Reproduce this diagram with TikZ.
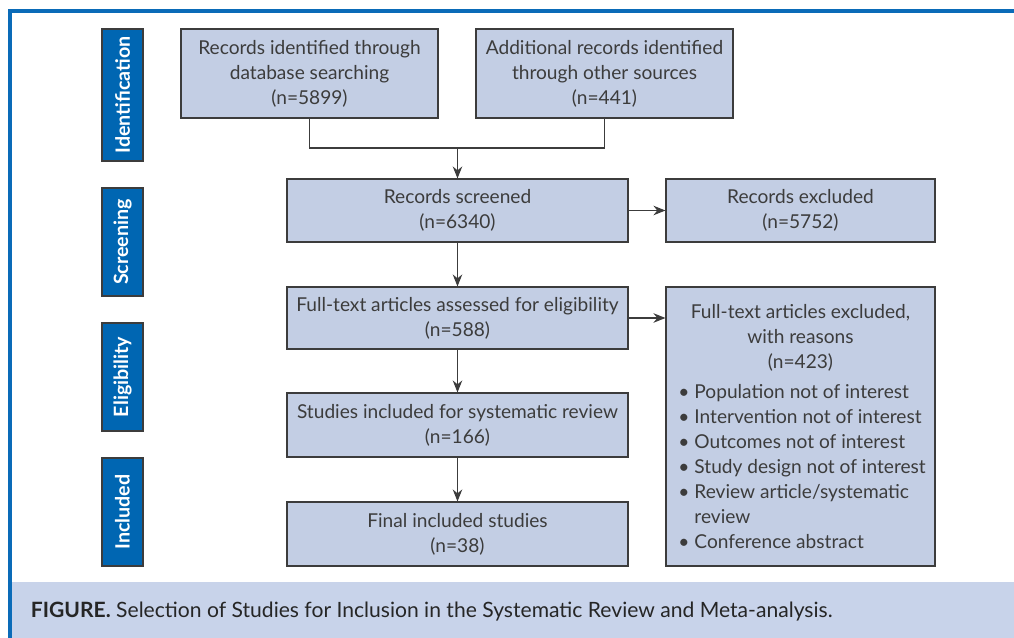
\documentclass[tikz,border=0pt]{standalone}
\usepackage{fontspec}
\setmainfont{Lato}
\usetikzlibrary{arrows.meta, positioning}
\definecolor{frameblue}{HTML}{0A6BB8}
\definecolor{stageblue}{HTML}{0066B2}
\definecolor{boxfill}{HTML}{C3CEE4}
\definecolor{capfill}{HTML}{C8D3EA}
\definecolor{inkgray}{HTML}{3C3C3C}
\newcommand{\reason}[1]{\makebox[6.1cm][l]{#1}}

\begin{document}
\begin{tikzpicture}[x=0.025cm, y=-0.025cm, every node/.style={font=\fontsize{13.6}{17.8}\selectfont, text=inkgray},
  box/.style={draw=inkgray, line width=0.8pt, fill=boxfill, minimum height=1.575cm, align=center, inner sep=2pt},
  stage/.style={draw=inkgray, line width=0.8pt, fill=stageblue, rotate=90, minimum height=1.025cm, minimum width=2.7cm, inner sep=0pt, text=white, font=\fontsize{14}{16}\selectfont\bfseries},
  arr/.style={-{Stealth[length=3mm, width=2.4mm]}, draw=inkgray, line width=0.8pt}]
  \useasboundingbox (0,0) rectangle (1014,638);

  % frame and caption band
  \fill[capfill] (11.5,582) rectangle (1014,638);
  \draw[frameblue, line width=2.2pt] (1014,11) -- (10,11) -- (10,638);

  % stages
  \node[stage, minimum width=3.3cm] (ident) at (122.5,95) {Identification};
  \node[stage] (screening) at (122.5,242) {Screening};
  \node[stage] (elig) at (122.5,377) {Eligibility};
  \node[stage] (incstage) at (122.5,512) {Included};

  % boxes
  \node[box, minimum width=6.425cm, minimum height=2.225cm] (db) at (309.5,73.5) {Records identified through\\database searching\\(n=5899)};
  \node[box, minimum width=6.425cm, minimum height=2.225cm] (other) at (604.5,73.5) {Additional records identified\\through other sources\\(n=441)};
  \node[box, minimum width=8.525cm] (screen) at (457.5,210.5) {Records screened\\(n=6340)};
  \node[box, minimum width=6.725cm] (excl) at (800.5,210.5) {Records excluded\\(n=5752)};
  \node[box, minimum width=8.525cm, minimum height=1.55cm] (full) at (457.5,318) {Full-text articles assessed for eligibility\\(n=588)};
  \node[box, minimum width=6.725cm, minimum height=6.975cm] (reasons) at (800.5,426.5)
    {Full-text articles excluded,\\with reasons\\(n=423)\\[3pt]
     \reason{\textbullet\ Population not of interest}\\
     \reason{\textbullet\ Intervention not of interest}\\
     \reason{\textbullet\ Outcomes not of interest}\\
     \reason{\textbullet\ Study design not of interest}\\
     \reason{\textbullet\ Review article/systematic}\\
     \reason{\hphantom{\textbullet\ }review}\\
     \reason{\textbullet\ Conference abstract}};
  \node[box, minimum width=8.525cm, minimum height=1.6cm] (incl) at (457.5,425) {Studies included for systematic review\\(n=166)};
  \node[box, minimum width=8.525cm, minimum height=1.6cm] (final) at (457.5,534) {Final included studies\\(n=38)};

  % connectors
  \coordinate (join) at (457.5,148);
  \draw[inkgray, line width=0.8pt] (db.south) |- (join) -| (other.south);
  \draw[arr] (join) -- (screen.north);
  \draw[arr] (screen.east) -- (excl.west);
  \draw[arr] (screen.south) -- (full.north);
  \draw[arr] (full.east) -- (full.east -| reasons.west);
  \draw[arr] (full.south) -- (incl.north);
  \draw[arr] (incl.south) -- (final.north);

  % caption
  \node[anchor=west, font=\fontsize{15}{18}\selectfont, text=black!85] (caption) at (26,612)
    {\textbf{FIGURE.} Selection of Studies for Inclusion in the Systematic Review and Meta-analysis.};
\end{tikzpicture}
\end{document}
